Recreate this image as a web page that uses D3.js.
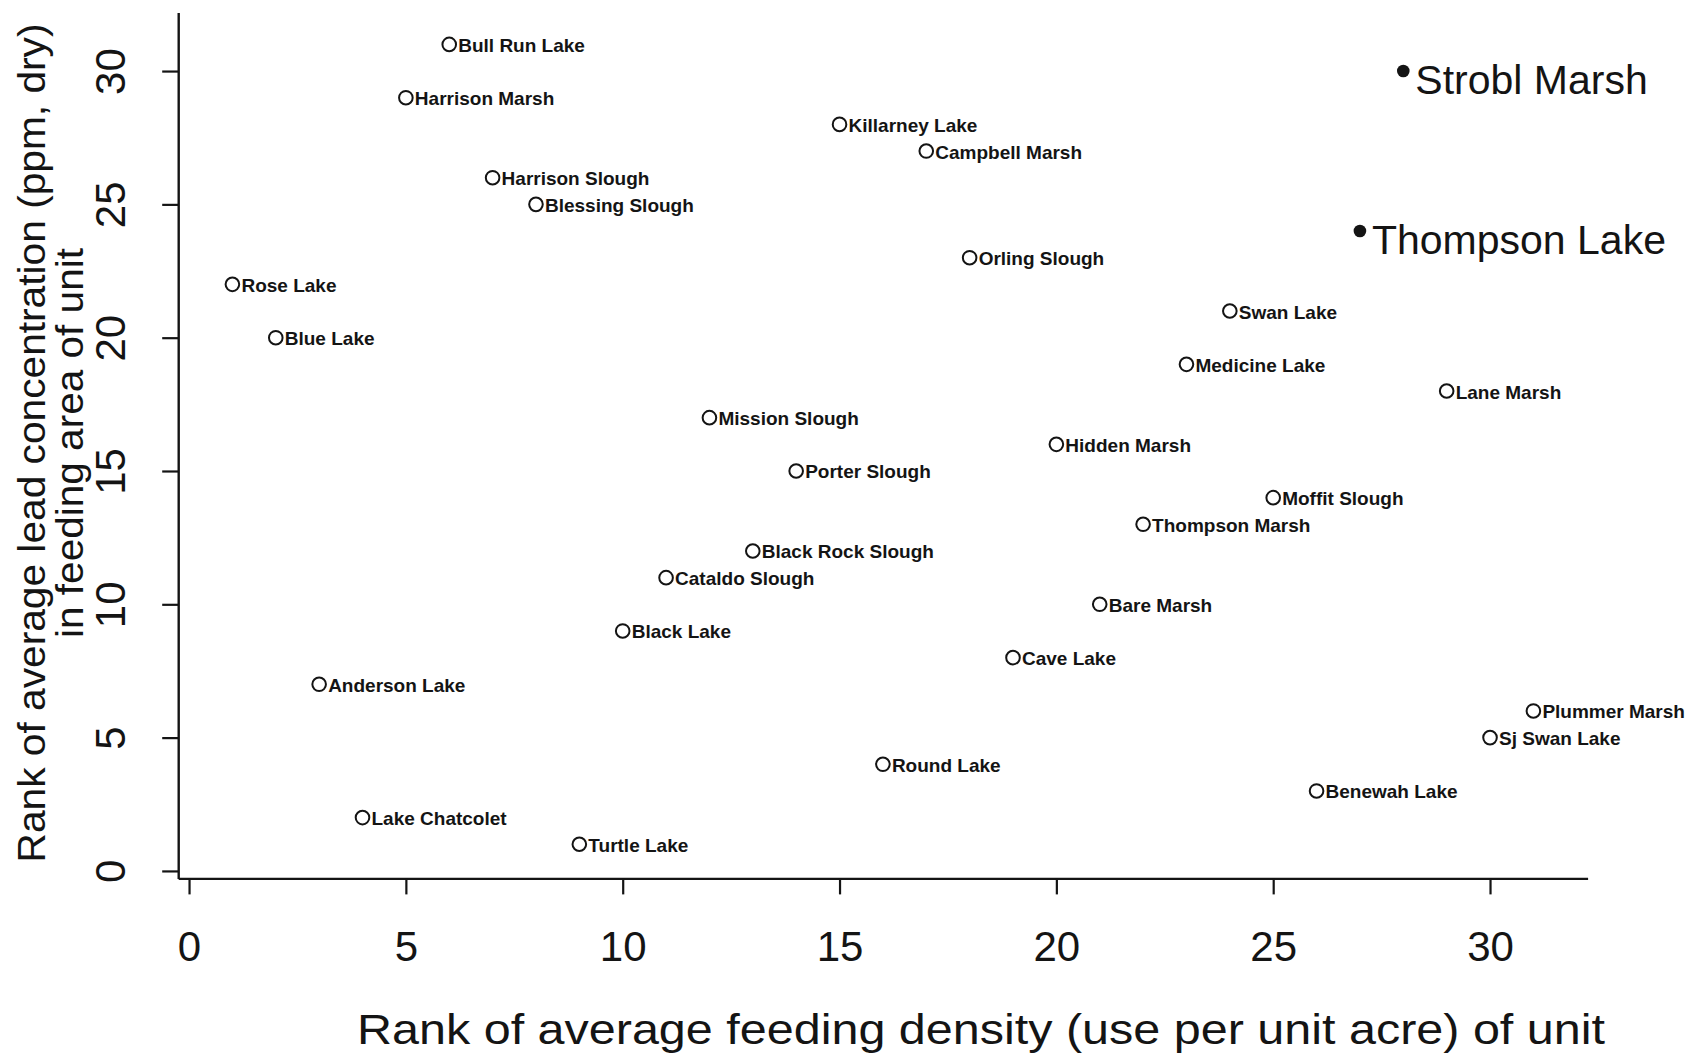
<!DOCTYPE html>
<html><head><meta charset="utf-8">
<script src="https://cdn.jsdelivr.net/npm/d3@7"></script>
<style>html,body{margin:0;padding:0;background:#fff;overflow:hidden}svg{display:block}</style>
</head><body><svg id="c" width="1690" height="1055"></svg>
<script>
// ---- data ----
const sites = ["Rose Lake","Blue Lake","Anderson Lake","Lake Chatcolet","Harrison Marsh","Bull Run Lake",
  "Harrison Slough","Blessing Slough","Turtle Lake","Black Lake","Cataldo Slough","Mission Slough",
  "Black Rock Slough","Porter Slough","Killarney Lake","Round Lake","Campbell Marsh","Orling Slough",
  "Cave Lake","Hidden Marsh","Bare Marsh","Thompson Marsh","Medicine Lake","Swan Lake","Moffit Slough",
  "Benewah Lake","Thompson Lake","Strobl Marsh","Lane Marsh","Sj Swan Lake","Plummer Marsh"];
const feedingRank = [1,2,3,4,5,6,7,8,9,10,11,12,13,14,15,16,17,18,19,20,21,22,23,24,25,26,27,28,29,30,31];
const leadRank    = [22,20,7,2,29,31,26,25,1,9,11,17,12,15,28,4,27,23,8,16,10,13,19,21,14,3,24,30,18,5,6];
const highlighted = ["Strobl Marsh","Thompson Lake"];
const xTicks = [0,5,10,15,20,25,30];
const yTicks = [0,5,10,15,20,25,30];
const xTitle = "Rank of average feeding density (use per unit acre) of unit";
const yTitle = ["Rank of average lead concentration (ppm, dry)","in feeding area of unit"];

// ---- chart ----
const svg = d3.select("#c");
const FONT = "'Liberation Sans', Arial, Helvetica, sans-serif";
const ink = "#141414";
const x = d3.scaleLinear().domain([-0.25, 32.25]).range([178.2, 1587.6]);
const y = d3.scaleLinear().domain([-0.28, 32.2]).range([878.4, 12.4]);

const pts = sites.map((s,i)=>({name:s, fx:feedingRank[i], ly:leadRank[i], hi: highlighted.includes(s)}));

// x axis
const gx = svg.append("g").attr("transform",`translate(0,${y.range()[0]})`)
  .call(d3.axisBottom(x).tickValues(xTicks).tickSize(16).tickSizeOuter(0).tickFormat(d3.format("d")));
gx.select(".domain").attr("stroke",ink).attr("stroke-width",2.4);
gx.selectAll(".tick line").attr("stroke",ink).attr("stroke-width",2.2);
gx.selectAll(".tick text").attr("y",68).attr("dy",null).attr("dominant-baseline","central")
  .attr("font-family",FONT).attr("font-size",42).attr("fill",ink);

// y axis
const gy = svg.append("g").attr("transform",`translate(${x.range()[0]},0)`)
  .call(d3.axisLeft(y).tickValues(yTicks).tickSize(16).tickSizeOuter(0).tickFormat(d3.format("d")));
gy.select(".domain").attr("stroke",ink).attr("stroke-width",2.4);
gy.selectAll(".tick line").attr("stroke",ink).attr("stroke-width",2.2);
gy.selectAll(".tick text").attr("x",null).attr("dy",null)
  .attr("transform","translate(-68,0) rotate(-90)")
  .attr("text-anchor","middle").attr("dominant-baseline","central")
  .attr("font-family",FONT).attr("font-size",42).attr("fill",ink);
svg.selectAll(".domain").attr("fill","none");

// axis titles
svg.append("text").attr("x",357).attr("y",1044)
  .attr("font-family",FONT).attr("font-size",43).attr("fill",ink)
  .attr("textLength",1248).attr("lengthAdjust","spacingAndGlyphs").text(xTitle);
const yTitleBase = [45, 83];
const yTitleLen = [839, 390];
yTitle.forEach((t,i)=>{
  svg.append("text").attr("transform",`translate(${yTitleBase[i]},443) rotate(-90)`)
    .attr("text-anchor","middle").attr("font-family",FONT).attr("font-size",38).attr("fill",ink)
    .attr("textLength",yTitleLen[i]).attr("lengthAdjust","spacingAndGlyphs").text(t);
});

// points
const g = svg.append("g");
g.selectAll("circle").data(pts).join("circle")
  .attr("cx",d=>x(d.fx)).attr("cy",d=>y(d.ly))
  .attr("r",d=>d.hi?6.3:6.8)
  .attr("fill",d=>d.hi?ink:"#fff").attr("stroke",ink).attr("stroke-width",d=>d.hi?0:2);
g.selectAll("text").data(pts).join("text")
  .attr("x",d=>x(d.fx)+(d.hi?12:9)).attr("y",d=>y(d.ly)+(d.hi?23:7.5))
  .attr("font-family",FONT).attr("font-size",d=>d.hi?41:19).attr("font-weight",d=>d.hi?400:700)
  .attr("fill",ink).text(d=>d.name);
</script></body></html>
